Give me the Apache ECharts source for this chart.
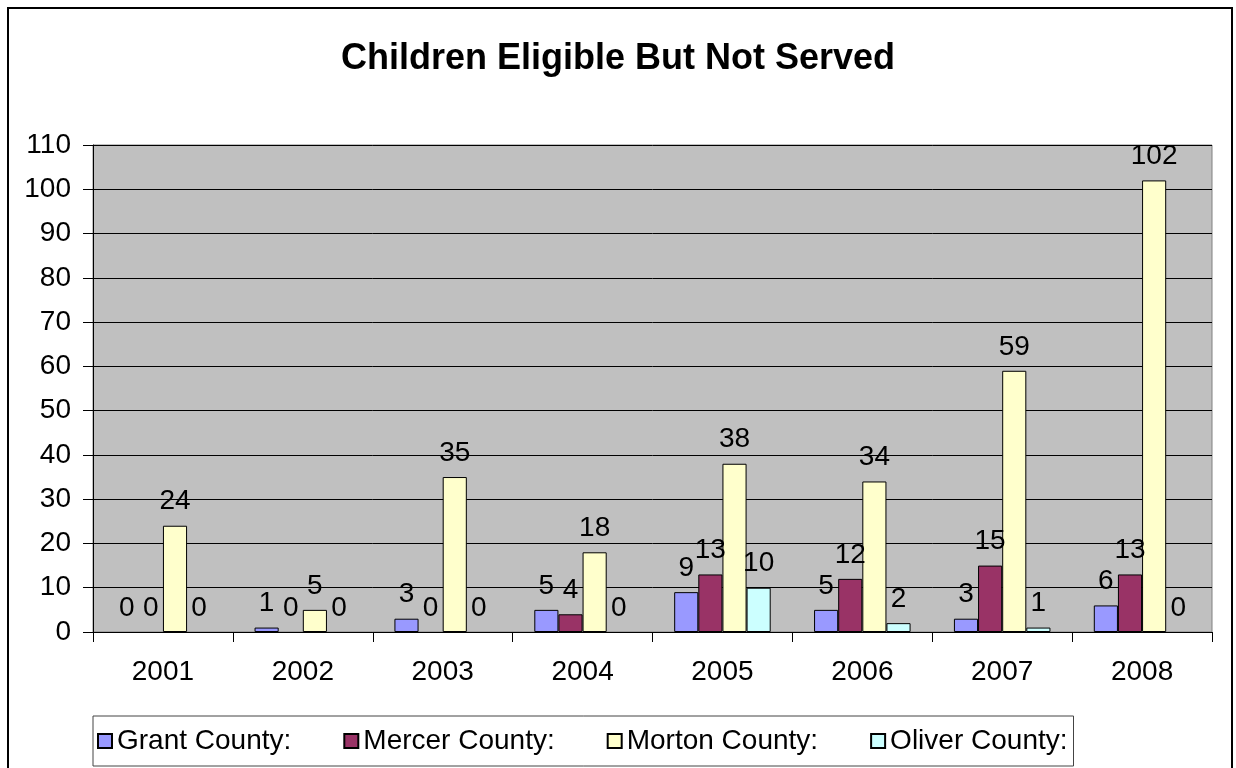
<!DOCTYPE html>
<html>
<head>
<meta charset="utf-8">
<title>Children Eligible But Not Served</title>
<script src="https://cdn.jsdelivr.net/npm/echarts@6/dist/echarts.min.js"></script>
<style>
  html, body { margin: 0; padding: 0; background: #fff; }
  #chart { width: 1236px; height: 768px; }
</style>
</head>
<body>
<div id="chart"></div>
<script>
// Datos
const years = ['2001', '2002', '2003', '2004', '2005', '2006', '2007', '2008'];
const grantCounty = [0, 1, 3, 5, 9, 5, 3, 6];
const mercerCounty = [0, 0, 0, 4, 13, 12, 15, 13];
const mortonCounty = [24, 5, 35, 18, 38, 34, 59, 102];
const oliverCounty = [0, 0, 0, 0, 10, 2, 1, 0];
const yTicks = { min: 0, max: 110, interval: 10 };

const FONT = 'Arial, "Liberation Sans", sans-serif';

function serie(name, values, color) {
  return {
    name: name,
    type: 'bar',
    // las barras con valor 0 no llevan borde (como en Excel)
    data: values.map(v => v === 0 ? { value: v, itemStyle: { borderWidth: 0 } } : v),
    barGap: '0%',
    barCategoryGap: '31%',
    itemStyle: { color: color, borderColor: '#000', borderWidth: 1 },
    label: {
      show: true,
      position: 'top',
      distance: 10,
      color: '#000',
      fontFamily: FONT,
      fontSize: 28
    }
  };
}

const chart = echarts.init(document.getElementById('chart'));

chart.setOption({
  backgroundColor: '#fff',
  animation: false,
  textStyle: { fontFamily: FONT, color: '#000' },
  title: {
    text: 'Children Eligible But Not Served',
    left: 'center',
    top: 36,
    textStyle: { fontFamily: FONT, fontSize: 36, fontWeight: 'bold', color: '#000' }
  },
  graphic: [{
    type: 'rect',
    shape: { x: 8, y: 8, width: 1224, height: 780 },
    style: { fill: 'none', stroke: '#000', lineWidth: 2 },
    silent: true
  }],
  legend: {
    left: 93,
    top: 716,
    width: 1000,
    padding: [11, 6, 11, 4],
    itemGap: 52,
    itemWidth: 14,
    itemHeight: 14,
    icon: 'rect',
    borderColor: '#444',
    borderWidth: 1,
    textStyle: { fontFamily: FONT, fontSize: 28, color: '#000' },
    data: ['Grant County:', 'Mercer County:', 'Morton County:', 'Oliver County:']
  },
  grid: {
    left: 93,
    right: 24,
    top: 145,
    bottom: 136,
    show: true,
    backgroundColor: '#C0C0C0',
    borderColor: '#808080',
    borderWidth: 1
  },
  xAxis: {
    type: 'category',
    data: years,
    axisLine: { lineStyle: { color: '#000', width: 1 } },
    axisTick: { show: true, length: 10, lineStyle: { color: '#000' } },
    axisLabel: { fontFamily: FONT, fontSize: 28, color: '#000', margin: 26 }
  },
  yAxis: {
    type: 'value',
    min: yTicks.min,
    max: yTicks.max,
    interval: yTicks.interval,
    axisLine: { show: true, lineStyle: { color: '#000', width: 1 } },
    axisTick: { show: true, length: 10, lineStyle: { color: '#000' } },
    axisLabel: { fontFamily: FONT, fontSize: 28, color: '#000', margin: 22 },
    splitLine: { show: true, lineStyle: { color: '#000', width: 1 } }
  },
  series: [
    serie('Grant County:', grantCounty, '#9999FF'),
    serie('Mercer County:', mercerCounty, '#993366'),
    serie('Morton County:', mortonCounty, '#FFFFCC'),
    serie('Oliver County:', oliverCounty, '#CCFFFF')
  ]
});

window.addEventListener('resize', () => chart.resize());
</script>
</body>
</html>
